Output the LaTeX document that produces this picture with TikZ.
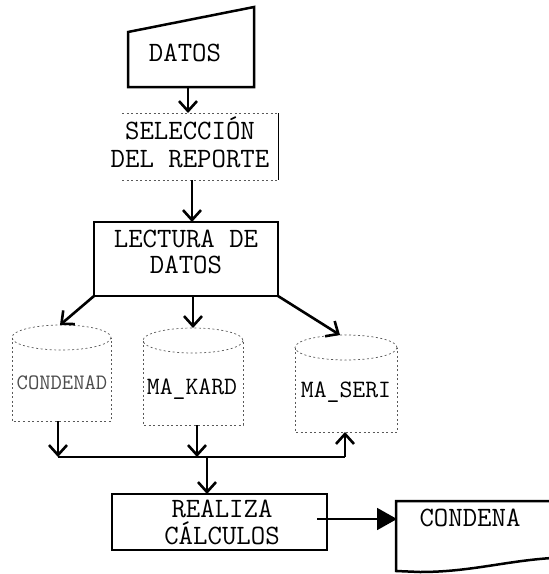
\documentclass[tikz,border=0pt]{standalone}
\usepackage{fontspec}
\usetikzlibrary{arrows.meta}
\tikzset{
  txt/.style={inner sep=0pt, align=center, font=\ttfamily\fontsize{28}{30}\selectfont},
  smalltxt/.style={inner sep=0pt, font=\ttfamily\fontsize{25}{28}\selectfont},
  tinytxt/.style={inner sep=0pt, text=black!70, font=\ttfamily\fontsize{22}{24}\selectfont},
  boxline/.style={line width=2.5pt, line join=miter},
  faint/.style={line width=0.7pt, black!65, dash pattern=on 2pt off 2.5pt},
  arr/.style={line width=2.6pt, -{Straight Barb[length=10pt,width=18pt,line width=2.6pt]}},
  link/.style={line width=2.6pt},
  filledarr/.style={line width=1.8pt, -{Triangle[length=20pt,width=22pt]}},
}
\begin{document}
\begin{tikzpicture}[x=1pt,y=-1pt]
\useasboundingbox (0,0) rectangle (549,574);

% DATOS (manual input)
\draw[boxline] (128,87) -- (254,87) -- (254,7) -- (128,32) -- cycle;
\node[txt] (datos) at (185,53) {DATOS};
\coordinate (datosB) at (188,87);

% SELECCION DEL REPORTE
\draw[faint] (122,113) -- (278,113);
\draw[faint] (122,180) -- (278,180);
\draw[line width=0.9pt] (278,113) -- (278,180);
\node[txt, font=\ttfamily\fontsize{28}{28}\selectfont] (sel) at (190,142) {SELECCIÓN\\DEL REPORTE};
\coordinate (selT) at (188,113);
\coordinate (selB) at (192,180);

% LECTURA DE DATOS
\draw[boxline] (94,222) rectangle (278,296);
\node[txt, font=\ttfamily\fontsize{28}{26}\selectfont] (lect) at (186,252) {LECTURA DE\\DATOS};
\coordinate (lectT) at (192,222);
\coordinate (lectBL) at (94,296);
\coordinate (lectBM) at (193,296);
\coordinate (lectBR) at (278,296);

% cylinders
\draw[faint] (61.5,337.5) ellipse [x radius=49.5, y radius=12.5];
\draw[faint] (12,337.5) -- (12,421) -- (111,421) -- (111,337.5);
\node[tinytxt] (cond) at (62,383) {CONDENAD};
\coordinate (condT) at (60,325);
\coordinate (condB) at (58,421);

\draw[faint] (193,340.5) ellipse [x radius=50, y radius=12.5];
\draw[faint] (143,340.5) -- (143,425) -- (243,425) -- (243,340.5);
\node[smalltxt] (kard) at (192,389) {MA\_KARD};
\coordinate (kardT) at (193,328);
\coordinate (kardB) at (197,425);

\draw[faint] (346,347.5) ellipse [x radius=51, y radius=12.5];
\draw[faint] (295,347.5) -- (295,432) -- (397,432) -- (397,347.5);
\node[smalltxt] (seri) at (346,392) {MA\_SERI};
\coordinate (seriT) at (340,335);
\coordinate (seriB) at (345,432);

% junction line
\coordinate (jL) at (58,457);
\coordinate (jK) at (197,457);
\coordinate (jM) at (207,457);
\coordinate (jR) at (345,457);

% REALIZA CALCULOS
\draw[boxline] (112,494) rectangle (327,550);
\node[txt, font=\ttfamily\fontsize{28}{27}\selectfont] (calc) at (222,522) {REALIZA\\CÁLCULOS};
\coordinate (calcT) at (207,494);
\coordinate (calcR) at (317,519);

% CONDENA document
\draw[boxline] (552,501) -- (396,501) -- (396,571) -- (420,572)
  .. controls (470,572) and (505,561) .. (552,558);
\node[txt] (condena) at (470,518) {CONDENA};
\coordinate (condenaL) at (397,519);

% connectors
\draw[arr] (datosB) -- (selT);
\draw[arr] (selB) -- (lectT);
\draw[arr] (lectBL) -- (condT);
\draw[arr] (lectBM) -- (kardT);
\draw[arr] (lectBR) -- (seriT);
\draw[arr] (condB) -- (jL);
\draw[arr] (kardB) -- (jK);
\draw[link] (jL) -- (jR);
\draw[arr] (jR) -- (seriB);
\draw[arr] (jM) -- (calcT);
\draw[filledarr] (calcR) -- (condenaL);
\end{tikzpicture}
\end{document}
